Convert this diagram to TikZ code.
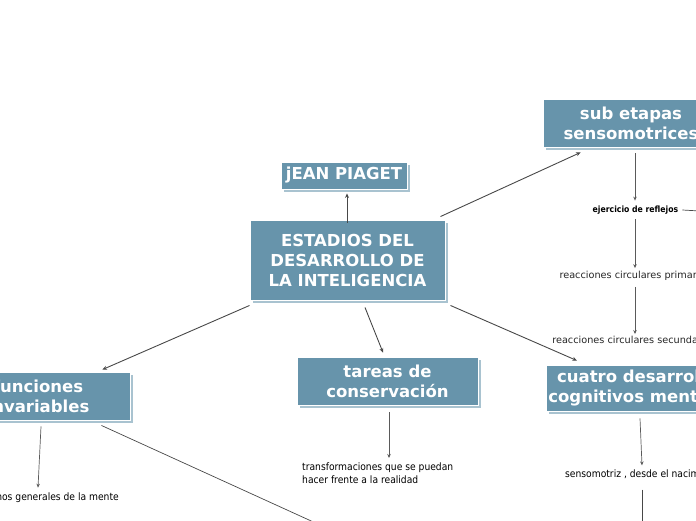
\documentclass[tikz,border=0pt]{standalone}
\usepackage{fontspec}
\setmainfont{DejaVu Sans}
\newfontfamily\condfont{DejaVu Sans Condensed}
\usetikzlibrary{shadows,arrows.meta,calc}
\definecolor{boxc}{HTML}{6794AB}
\definecolor{shadc}{HTML}{A9C3D0}
\definecolor{linec}{HTML}{484848}
\tikzset{
  topic/.style={rectangle, fill=boxc, draw=white, line width=0.9pt, text=white,
    font=\fontsize{16.5}{20}\selectfont\bfseries, align=center, inner sep=2pt,
    copy shadow={shadow xshift=3pt, shadow yshift=-3pt, fill=shadc, draw=none}},
  leaf/.style={font=\fontsize{9.7}{13}\selectfont, text=black!85, inner sep=1pt},
  leafc/.style={font=\condfont\fontsize{10.2}{13}\selectfont, text=black, inner sep=1pt},
  leafb/.style={font=\condfont\fontsize{8.6}{13}\selectfont\bfseries, text=black, inner sep=1pt},
  conn/.style={draw=linec, line width=0.9pt, -{Stealth[length=4.5pt,width=4pt]}},
  sconn/.style={draw=linec!90, line width=0.7pt, -{Stealth[length=4pt,width=3.5pt]}},
  plain/.style={draw=linec, line width=0.7pt},
}
\begin{document}
\begin{tikzpicture}[x=1pt,y=-1pt]
\useasboundingbox (0,0) rectangle (696,520);
% topics
\node[topic, minimum width=126pt, minimum height=27pt] (jean) at (344,175.5) {jEAN PIAGET};
\node[topic, minimum width=195pt, minimum height=80pt] (main) at (347.5,260) {ESTADIOS DEL\\DESARROLLO DE\\LA INTELIGENCIA};
\node[topic, minimum width=176pt, minimum height=48pt] (sub) at (631,123) {sub etapas\\sensomotrices};
\node[topic, minimum width=184pt, minimum height=48pt] (fun) at (38,396) {funciones\\invariables};
\node[topic, minimum width=181pt, minimum height=48pt] (tar) at (387.5,381) {tareas de\\conservación};
\node[topic, minimum width=184pt, minimum height=46pt] (cua) at (642,388) {cuatro desarrollos\\cognitivos mentales};
% leaves
\node[leafb] (ejer) at (635.5,210) {ejercicio de reflejos};
\node[leaf] (prim) at (635,276) {reacciones circulares primarias};
\node[leaf] (secu) at (634,340) {reacciones circulares secundarias};
\node[leafc] (senso) at (644,474) {sensomotriz , desde el nacimiento};
\node[leafc, anchor=east] (meca) at (120,497) {fenómenos generales de la mente};
\node[leafc, anchor=north west, align=left] (trans) at (301,462) {transformaciones que se puedan\\hacer frente a la realidad};
% helper x positions and free ends
\coordinate (xf) at (38,0);
\coordinate (xt) at (389,0);
\coordinate (offr) at (700,211);
\coordinate (offf) at (320,525);
\coordinate (offs) at (642,525);
% connectors
\draw[conn] ([xshift=-0.5pt,yshift=-3pt]main.north) -- ([xshift=3pt,yshift=-4pt]jean.south);
\draw[conn] ([xshift=-5pt,yshift=3pt]main.north east) -- ([xshift=38pt,yshift=-5pt]sub.south west);
\draw[conn] ([xshift=5pt,yshift=-5pt]main.south east) -- ([xshift=31pt,yshift=4pt]cua.north west);
\draw[conn] ([yshift=-5pt]main.south west) -- ([xshift=-28pt,yshift=2pt]fun.north east);
\draw[conn] ([xshift=17.5pt,yshift=-7pt]main.south) -- ([xshift=-4.5pt,yshift=4pt]tar.north);
\draw[sconn] ([xshift=3pt,yshift=-6pt]fun.south) -- ([yshift=3pt]meca.north -| xf);
\draw[plain] ([xshift=-29pt,yshift=-5pt]fun.south east) -- (offf);
\draw[sconn] ([xshift=1.5pt,yshift=-7pt]tar.south) -- ([yshift=4pt]trans.north west -| xt);
\draw[sconn] ([xshift=4pt,yshift=-6pt]sub.south) -- ([xshift=-0.5pt,yshift=4pt]ejer.north);
\draw[plain] ([xshift=3pt]ejer.east) -- (offr);
\draw[sconn] ([xshift=-0.5pt,yshift=-4pt]ejer.south) -- ([yshift=2pt]prim.north);
\draw[sconn] ([yshift=-5pt]prim.south) -- ([xshift=1pt,yshift=1pt]secu.north);
\draw[sconn] ([xshift=-2pt,yshift=-7pt]cua.south) -- ([xshift=-2pt,yshift=3pt]senso.north);
\draw[plain] ([xshift=-2pt,yshift=-10pt]senso.south) -- (offs);
\end{tikzpicture}
\end{document}
